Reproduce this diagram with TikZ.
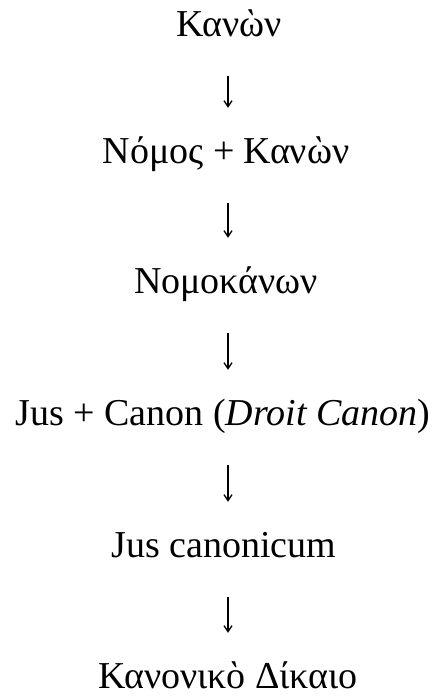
\documentclass[tikz,border=0pt]{standalone}
\usepackage{fontspec}
\setmainfont{Liberation Serif}
\usetikzlibrary{arrows.meta}
\begin{document}
\begin{tikzpicture}[x=1pt,y=1pt,
  term/.style={anchor=base, inner sep=0pt, text height=26pt, text depth=8pt,
    font=\fontsize{38}{42}\selectfont},
  flow/.style={line width=1.2pt, -{Straight Barb[length=6pt,width=8pt,line width=1.3pt]},
    shorten <=32pt, shorten >=29pt}]
\useasboundingbox (0,0) rectangle (440,-697);
\node[term] (t1) at (229,-36)  {Κανὼν};
\node[term] (t2) at (226,-163) {Νόμος + Κανὼν};
\node[term] (t3) at (226,-293) {Νομοκάνων};
\node[term] (t4) at (223,-425) {Jus + Canon (\textit{Droit Canon})};
\node[term] (t5) at (224,-557) {Jus canonicum};
\node[term] (t6) at (228,-688) {Κανονικὸ Δίκαιο};
\draw[flow] (t1.south -| 228,0) -- (t2.north -| 228,0);
\draw[flow] (t2.south -| 228,0) -- (t3.north -| 228,0);
\draw[flow] (t3.south -| 228,0) -- (t4.north -| 228,0);
\draw[flow] (t4.south -| 228,0) -- (t5.north -| 228,0);
\draw[flow] (t5.south -| 228,0) -- (t6.north -| 228,0);
\end{tikzpicture}
\end{document}
